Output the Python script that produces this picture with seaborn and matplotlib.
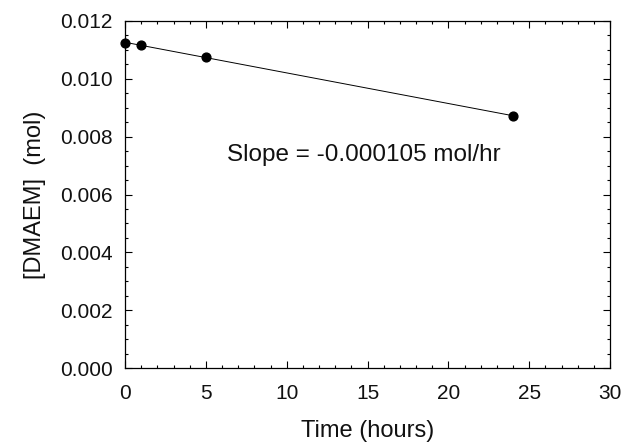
import numpy as np
import pandas as pd
import matplotlib
matplotlib.use("Agg")
import matplotlib.pyplot as plt
import seaborn as sns
from matplotlib.ticker import MultipleLocator

# data
time_hours = [0, 1, 5, 24]
dmaem_mol = [0.01124, 0.01117, 0.01075, 0.00872]
slope_label = "Slope = -0.000105 mol/hr"

df = pd.DataFrame({"time": time_hours, "dmaem": dmaem_mol})

sns.set_style("ticks")
plt.rcParams["font.family"] = ["Liberation Sans", "DejaVu Sans"]
plt.rcParams["text.color"] = "#111111"
plt.rcParams["axes.labelcolor"] = "#111111"

fig = plt.figure(figsize=(6.39, 4.45), dpi=100)
ax = fig.add_axes([125 / 639, 1 - 368 / 445, 485 / 639, 347 / 445])

sns.regplot(data=df, x="time", y="dmaem", ci=None, ax=ax,
            scatter_kws={"s": 40, "color": "black", "alpha": 1, "zorder": 3, "clip_on": False},
            line_kws={"color": "black", "lw": 0.7})

ax.set_xlim(0, 30)
ax.set_ylim(0, 0.012)
ax.xaxis.set_major_locator(MultipleLocator(5))
ax.xaxis.set_minor_locator(MultipleLocator(1))
ax.yaxis.set_major_locator(MultipleLocator(0.002))
ax.yaxis.set_minor_locator(MultipleLocator(0.0005))
ax.yaxis.set_major_formatter(matplotlib.ticker.FormatStrFormatter("%.3f"))

ax.tick_params(which="both", direction="in", top=True, right=True,
               labelsize=15, width=0.8, colors="black", labelcolor="#111111")
ax.tick_params(which="major", length=5)
ax.tick_params(axis="x", which="major", pad=11.5)
ax.tick_params(axis="y", which="major", pad=9)
ax.tick_params(which="minor", length=2.5)
for s in ax.spines.values():
    s.set_linewidth(0.9)
    s.set_color("black")

ax.set_xlabel("Time (hours)", fontsize=17, labelpad=12)
ax.set_ylabel("[DMAEM]  (mol)", fontsize=17, labelpad=10)

ax.text(14.8, 0.00737, slope_label, fontsize=17.5, ha="center", va="center")

fig.savefig("out.png", dpi=100)
